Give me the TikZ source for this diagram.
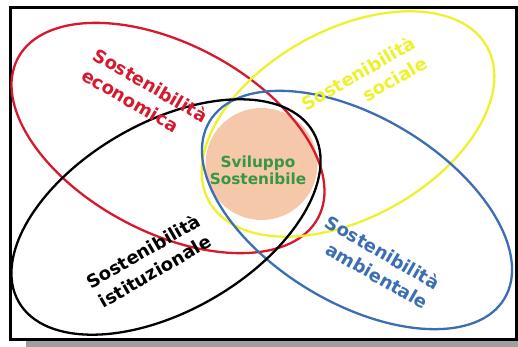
\documentclass[tikz,border=0pt]{standalone}
\usepackage{fontspec}
\setmainfont{DejaVu Sans}
\usepackage{tikz}
\usetikzlibrary{positioning}
\definecolor{ecored}{RGB}{215,25,45}
\definecolor{socyellow}{RGB}{238,242,45}
\definecolor{ambblue}{RGB}{60,110,180}
\definecolor{svgreen}{RGB}{55,150,70}
\definecolor{peach}{RGB}{245,200,170}

\begin{document}
\begin{tikzpicture}[
    x=1pt, y=-1pt,
    ring/.style={line width=2.3pt},
    pillar/.style={font=\fontsize{18}{23}\selectfont\bfseries},
    core/.style={circle, fill=peach, minimum size=112pt, inner sep=0pt}
]
\useasboundingbox (0,0) rectangle (518,347);

% frame with shadow
\fill[gray!75] (26,22) rectangle (522,350);
\draw[line width=3pt, fill=white] (10,8) rectangle (516,339);

% centre
\node[core] (core) at (261.5,164) {};

% the four dimensions
\draw[ring, ecored] [rotate around={-28:(168,138)}] (168,138) ellipse [x radius=170, y radius=94];
\draw[ring, socyellow] [rotate around={29:(348,124)}] (348,124) ellipse [x radius=159, y radius=94];
\draw[ring, ambblue] [rotate around={-31:(357,210)}] (357,210) ellipse [x radius=172, y radius=93];
\draw[ring, black] [rotate around={30:(166,217)}] (166,217) ellipse [x radius=170, y radius=94];

\node[pillar, text=ecored, rotate=-30, align=left] (eco) at (145,95) {Sostenibilità\\economica};
\node[pillar, text=socyellow, rotate=30, align=right] (soc) at (364,83) {Sostenibilità\\sociale};
\node[pillar, text=black, rotate=30, align=center] (ist) at (149,261) {Sostenibilità\\istituzionale};
\node[pillar, text=ambblue, rotate=-30, align=right] (amb) at (377,262) {Sostenibilità\\ambientale};

\node[font=\fontsize{15.3}{17}\selectfont\bfseries, text=svgreen, align=center] (sv) at (258,170) {Sviluppo\\Sostenibile};
\end{tikzpicture}
\end{document}
